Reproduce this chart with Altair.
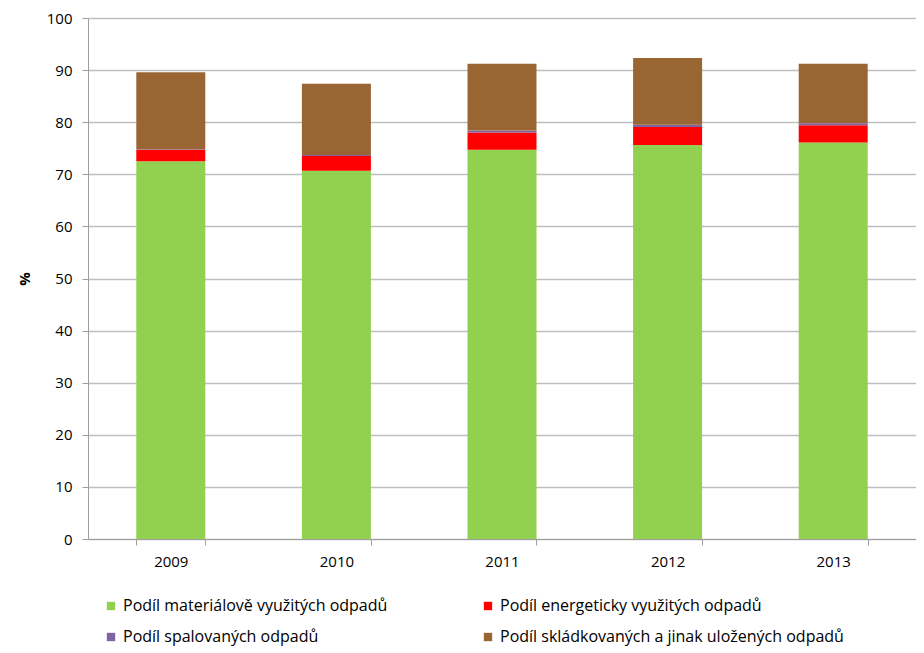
import altair as alt
import pandas as pd

years = ["2009", "2010", "2011", "2012", "2013"]
series = [
    "Podíl materiálově využitých odpadů",
    "Podíl energeticky využitých odpadů",
    "Podíl spalovaných odpadů",
    "Podíl skládkovaných a jinak uložených odpadů",
]
colors = ["#92D050", "#FF0000", "#8064A2", "#996633"]
material = [72.5, 70.7, 74.7, 75.6, 76.1]
energy = [2.2, 2.8, 3.3, 3.5, 3.3]
burned = [0.1, 0.2, 0.4, 0.4, 0.4]
landfill = [14.8, 13.7, 12.8, 12.8, 11.4]

rows = []
for si, (name, vals) in enumerate(zip(series, [material, energy, burned, landfill])):
    for y, v in zip(years, vals):
        rows.append({"rok": y, "serie": name, "hodnota": v, "poradi": si})
df = pd.DataFrame(rows)

FONT = "Open Sans"

chart = alt.Chart(df).mark_bar(size=69).encode(
    x=alt.X("rok:N", title=None,
            scale=alt.Scale(paddingInner=0.584, paddingOuter=0.292),
            axis=alt.Axis(labelAngle=0, tickBand="extent", domainColor="#9E9E9E",
                          tickColor="#9E9E9E", tickSize=6, labelPadding=9,
                          labelFontSize=15, labelColor="#000000", labelFont=FONT,
                          grid=False)),
    y=alt.Y("hodnota:Q", title="%", stack="zero",
            scale=alt.Scale(domain=[0, 100], nice=False),
            axis=alt.Axis(values=list(range(0, 101, 10)), domainColor="#9E9E9E",
                          tickColor="#9E9E9E", tickSize=6, labelPadding=10,
                          labelFontSize=15, labelColor="#000000", labelFont=FONT,
                          gridColor="#BEBEBE", gridWidth=1.3,
                          titleFont=FONT, titleFontSize=15, titleFontWeight="bold",
                          titleColor="#000000", titlePadding=14)),
    color=alt.Color("serie:N", scale=alt.Scale(domain=series, range=colors),
                    legend=alt.Legend(title=None, orient="none", legendX=15, legendY=580,
                                      columns=2, direction="horizontal",
                                      columnPadding=92, rowPadding=15,
                                      symbolType="square", symbolSize=70,
                                      symbolStrokeWidth=0, labelFont=FONT,
                                      labelFontSize=16, labelColor="#000000",
                                      labelLimit=400, labelOffset=4)),
    order=alt.Order("poradi:Q", sort="ascending"),
).properties(
    width=828, height=521,
    padding={"left": 9, "top": 3, "right": 0, "bottom": 5},
).configure_view(stroke=None)

chart.save("out.html", embed_options={"renderer": "svg", "actions": False})
